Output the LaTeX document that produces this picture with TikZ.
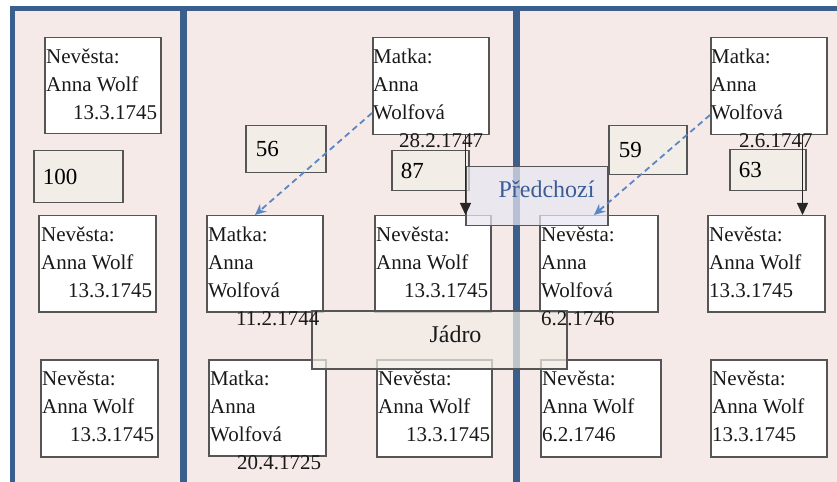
\documentclass[tikz,border=0pt]{standalone}
\usepackage{fontspec}
\setmainfont{Liberation Serif}
\usetikzlibrary{arrows.meta,calc}
\definecolor{pinkbg}{HTML}{F6EAE9}
\definecolor{frameblue}{HTML}{3B5F8C}
\definecolor{numfill}{HTML}{F2EDE6}
\definecolor{boxline}{HTML}{555555}
\definecolor{dashblue}{HTML}{5A86C5}
\definecolor{predfill}{HTML}{E8E6F0}
\definecolor{predtext}{HTML}{3A5D98}
\definecolor{jadrofill}{HTML}{F1ECE5}
\newcommand\rbox[5]{\node[box,minimum width=#4bp,minimum height=#5bp] (#1) at (#2,#3) {};}
\newcommand\nbox[7]{\node[numbox,minimum width=#4bp,minimum height=#5bp,inner xsep=#6bp,text width=#4bp-2*#6bp] (#1) at (#2,#3) {#7};}
\begin{document}
\begin{tikzpicture}[x=1bp,y=-1bp,
  font=\fontsize{21bp}{28bp}\selectfont,
  box/.style={draw=boxline,fill=white,line width=1.5bp,inner sep=0pt,anchor=north west},
  numbox/.style={draw=boxline,fill=numfill,line width=1.5bp,inner ysep=0pt,anchor=north west,align=left,font=\fontsize{23bp}{28bp}\selectfont},
  txt/.style={anchor=north west,inner sep=0pt,align=left,text=black!90},
  label text/.style={anchor=base,inner sep=0pt,font=\fontsize{24bp}{28bp}\selectfont},
  frame/.style={draw=frameblue},
  overlay box/.style={draw=boxline,line width=1.5bp,fill opacity=0.72,anchor=north west,inner sep=0pt},
  dasharrow/.style={draw=dashblue,line width=1.8bp,dash pattern=on 6bp off 4bp,-{Stealth[length=11bp,width=10bp,fill=dashblue]}},
  blackarrow/.style={draw=black!85,line width=1.3bp,-{Triangle[length=12bp,width=11bp]}}]
\useasboundingbox (0,0) rectangle (837,482);
\fill[white] (0,0) rectangle (837,482);
\fill[pinkbg] (10,8) rectangle (837,482);
% frame lines
\draw[frame,line width=4.5bp] (10,8.5) -- (837,8.5);
\draw[frame,line width=5bp] (12.5,8) -- (12.5,482);
\draw[frame,line width=7bp] (183.5,8) -- (183.5,482);
\draw[frame,line width=7.5bp] (516.5,8) -- (516.5,482);
% white boxes
\rbox{B1}{44}{37}{116}{96}
\rbox{B2}{38}{215}{117}{96}
\rbox{B3}{40}{359}{117}{97}
\rbox{M1}{372}{37}{116}{97}
\rbox{M2}{206}{215}{116}{96}
\rbox{N2}{374}{215}{116}{96}
\rbox{M3}{208}{359}{117}{96}
\rbox{N3}{376}{359}{115}{97}
\rbox{M4}{710}{37}{116}{97}
\rbox{N4}{539}{215}{118}{96}
\rbox{N5}{707}{215}{117}{96}
\rbox{N6}{540}{359}{120}{97}
\rbox{N7}{710}{359}{116}{97}
% number boxes
\nbox{n100}{33}{150}{89}{52}{9}{100}
\nbox{n56}{245}{125}{80}{47}{10}{56}
\nbox{n87}{391}{150}{77}{40}{9}{87}
\nbox{n59}{608}{125}{78}{49}{10}{59}
\nbox{n63}{729}{149}{76}{41}{9}{63}
% overlays
\node[overlay box,fill=predfill,minimum width=142bp,minimum height=59bp] (P) at (465,166) {};
\node[overlay box,fill=jadrofill,minimum width=255bp,minimum height=58bp] (J) at (311,310) {};
\node[label text,text=predtext] (tP) at (546.5,198) {Předchozí};
\node[label text,text=black!90] (tJ) at (455.5,342.5) {Jádro};
% solid arrows
\coordinate (a1) at ($(M1.south east)+(-24,0)$);
\draw[blackarrow] (a1) -- (a1 |- N2.north);
\coordinate (a2) at ($(M4.south east)+(-25,0)$);
\draw[blackarrow] (a2) -- (a2 |- N5.north);
% dashed arrows
\draw[dasharrow] ($(M1.north west)+(0,76)$) -- ($(M2.north west)+(49,0)$);
\draw[dasharrow] ($(M4.north west)+(0,78)$) -- ($(N4.north west)+(55,0)$);
% texts
\node[txt] (t1) at (46,43.4) {\strut Nevěsta:\\\strut Anna Wolf\\\strut\hspace*{27bp}13.3.1745};
\node[txt] (t2) at (41,221.4) {\strut Nevěsta:\\\strut Anna Wolf\\\strut\hspace*{27bp}13.3.1745};
\node[txt] (t3) at (42,365.4) {\strut Nevěsta:\\\strut Anna Wolf\\\strut\hspace*{28bp}13.3.1745};
\node[txt] (tm1) at (373,43.4) {\strut Matka:\\\strut Anna\\\strut Wolfová\\\strut\hspace*{26bp}28.2.1747};
\node[txt] (tm2) at (208,221.4) {\strut Matka:\\\strut Anna\\\strut Wolfová\\\strut\hspace*{28bp}11.2.1744};
\node[txt] (tn2) at (376,221.4) {\strut Nevěsta:\\\strut Anna Wolf\\\strut\hspace*{28bp}13.3.1745};
\node[txt] (tm3) at (210,365.4) {\strut Matka:\\\strut Anna\\\strut Wolfová\\\strut\hspace*{27bp}20.4.1725};
\node[txt] (tn3) at (378,365.4) {\strut Nevěsta:\\\strut Anna Wolf\\\strut\hspace*{28bp}13.3.1745};
\node[txt] (tm4) at (711,43.4) {\strut Matka:\\\strut Anna\\\strut Wolfová\\\strut\hspace*{28bp}2.6.1747};
\node[txt] (tn4) at (541,221.4) {\strut Nevěsta:\\\strut Anna\\\strut Wolfová\\\strut 6.2.1746};
\node[txt] (tn5) at (709,221.4) {\strut Nevěsta:\\\strut Anna Wolf\\\strut 13.3.1745};
\node[txt] (tn6) at (542,365.4) {\strut Nevěsta:\\\strut Anna Wolf\\\strut 6.2.1746};
\node[txt] (tn7) at (712,365.4) {\strut Nevěsta:\\\strut Anna Wolf\\\strut 13.3.1745};
\end{tikzpicture}
\end{document}
